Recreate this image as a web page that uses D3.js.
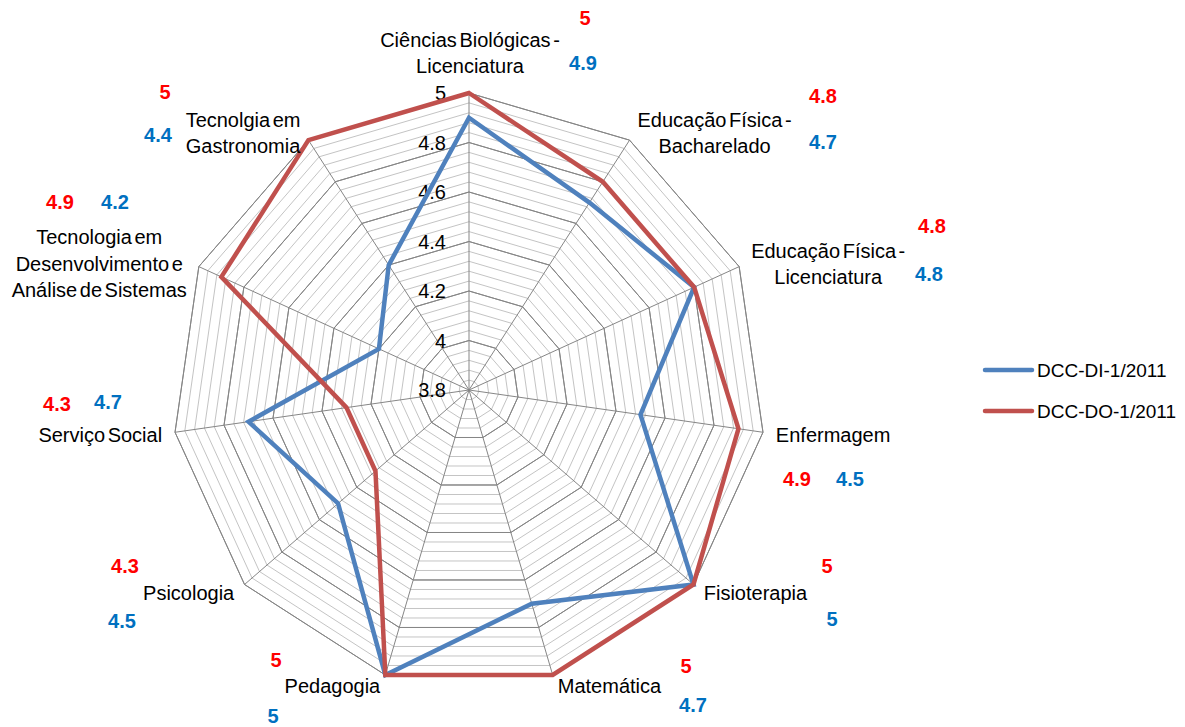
<!DOCTYPE html>
<html>
<head>
<meta charset="utf-8">
<script src="https://cdn.jsdelivr.net/npm/d3@7"></script>
<style>
  body { margin: 0; background: #fff; }
  svg text { font-family: "Liberation Sans", Arial, sans-serif; }
</style>
</head>
<body>
<svg id="chart" width="1185" height="727"></svg>
<script>
// categories, clockwise from the top
var categories = [
    ['Ciências Biológicas -', 'Licenciatura'],
    ['Educação Física -', 'Bacharelado'],
    ['Educação Física -', 'Licenciatura'],
    ['Enfermagem'],
    ['Fisioterapia'],
    ['Matemática'],
    ['Pedagogia'],
    ['Psicologia'],
    ['Serviço Social'],
    ['Tecnologia em', 'Desenvolvimento e', 'Análise de Sistemas'],
    ['Tecnolgia em', 'Gastronomia']
];
var seriesNames = ['DCC-DI-1/2011', 'DCC-DO-1/2011'];
var valuesDI = [4.9, 4.7, 4.8, 4.5, 5, 4.7, 5, 4.5, 4.7, 4.2, 4.4];
var valuesDO = [5, 4.8, 4.8, 4.9, 5, 5, 5, 4.3, 4.3, 4.9, 5];
var tickLabels = ['3.8', '4', '4.2', '4.4', '4.6', '4.8', '5'];

// hand placed value notes: [redX, redY, blueX, blueY]
var notePos = [
    [585, 18, 583, 63],
    [823, 96, 823, 142],
    [932, 226, 929, 274],
    [797, 479, 850, 479],
    [827, 566, 832, 619],
    [686, 666, 693, 705],
    [276, 660, 273, 716],
    [125, 566, 122, 621],
    [57, 404, 108, 402],
    [60, 202, 115, 202],
    [165, 92, 158, 135]
];

var colors = { di: '#4f81bd', do: '#c0504d', noteRed: '#ff0000', noteBlue: '#0070c0' };

var svg = d3.select('#chart');
var cx = 469, cy = 390, R = 297;
var n = categories.length;
var r = d3.scaleLinear().domain([3.8, 5]).range([0, R]);
var ang = function (i) { return i * 2 * Math.PI / n; };

var g = svg.append('g').attr('transform', 'translate(' + cx + ',' + cy + ')');

var ring = d3.lineRadial()
    .angle(function (d, i) { return ang(i); })
    .radius(function (d) { return r(d); })
    .curve(d3.curveLinearClosed);

// grid rings: minor every 0.04, major every 0.2
var levels = d3.range(0, 31).map(function (k) { return 3.8 + k * 0.04; });
g.selectAll('path.ring')
    .data(levels)
    .enter()
    .append('path')
    .attr('class', 'ring')
    .attr('d', function (v) { return ring(d3.range(n).map(function () { return v; })); })
    .attr('fill', 'none')
    .attr('stroke', function (v, k) { return k % 5 === 0 ? '#868686' : '#c4c4c4'; })
    .attr('stroke-width', 1);
// redraw majors on top
g.selectAll('path.major')
    .data(levels.filter(function (v, k) { return k % 5 === 0 && k > 0; }))
    .enter()
    .append('path')
    .attr('d', function (v) { return ring(d3.range(n).map(function () { return v; })); })
    .attr('fill', 'none')
    .attr('stroke', '#868686')
    .attr('stroke-width', 1);

// spokes
g.selectAll('line.spoke')
    .data(d3.range(n))
    .enter()
    .append('line')
    .attr('x1', 0).attr('y1', 0)
    .attr('x2', function (i) { return R * Math.sin(ang(i)); })
    .attr('y2', function (i) { return -R * Math.cos(ang(i)); })
    .attr('stroke', '#868686')
    .attr('stroke-width', 1);

// tick labels
g.selectAll('text.tick')
    .data(tickLabels)
    .enter()
    .append('text')
    .attr('x', -23)
    .attr('y', function (t) { return -r(+t); })
    .attr('dy', '0.36em')
    .attr('text-anchor', 'end')
    .attr('font-size', 20)
    .attr('fill', '#000')
    .text(function (t) { return t; });

// series
var series = [
    { name: seriesNames[0], values: valuesDI, color: colors.di },
    { name: seriesNames[1], values: valuesDO, color: colors.do }
];
g.selectAll('path.series')
    .data(series)
    .enter()
    .append('path')
    .attr('d', function (s) { return ring(s.values); })
    .attr('fill', 'none')
    .attr('stroke', function (s) { return s.color; })
    .attr('stroke-width', 4.5)
    .attr('stroke-linejoin', 'miter');

// category labels
var lh = 26.5;
categories.forEach(function (lines, i) {
    var s = Math.sin(ang(i)), c = Math.cos(ang(i));
    var px = cx + R * s, py = cy - R * c;
    var grp = svg.append('g');
    var texts = lines.map(function (l) {
        return grp.append('text')
            .attr('font-size', 20)
            .attr('word-spacing', -3)
            .attr('fill', '#000')
            .attr('text-anchor', 'middle')
            .text(l);
    });
    var w = d3.max(texts, function (t) { return t.node().getComputedTextLength(); });
    var midX, firstBase;
    if (Math.abs(s) < 0.1) {
        midX = px + 1;
        firstBase = py - 20 - (lines.length - 1) * lh;
    } else {
        var gap = 2 + 11 * Math.abs(s);
        midX = s > 0 ? px + gap + w / 2 : px - gap - w / 2;
        var centerY = py - c * 10 + 1.5;
        firstBase = centerY - (lines.length - 1) / 2 * lh + 7;
    }
    texts.forEach(function (t, k) {
        t.attr('x', midX).attr('y', firstBase + k * lh);
    });
});

// value notes
notePos.forEach(function (p, i) {
    svg.append('text')
        .attr('x', p[0]).attr('y', p[1]).attr('dy', '0.36em')
        .attr('text-anchor', 'middle')
        .attr('font-size', 20).attr('font-weight', 'bold')
        .attr('fill', colors.noteRed)
        .text(valuesDO[i]);
    svg.append('text')
        .attr('x', p[2]).attr('y', p[3]).attr('dy', '0.36em')
        .attr('text-anchor', 'middle')
        .attr('font-size', 20).attr('font-weight', 'bold')
        .attr('fill', colors.noteBlue)
        .text(valuesDI[i]);
});

// legend
var legend = svg.append('g').attr('transform', 'translate(985,370)');
var item = legend.selectAll('g')
    .data(series)
    .enter()
    .append('g')
    .attr('transform', function (d, i) { return 'translate(0,' + i * 41 + ')'; });
item.append('line')
    .attr('x1', 0).attr('x2', 47)
    .attr('stroke', function (d) { return d.color; })
    .attr('stroke-width', 4.5)
    .attr('stroke-linecap', 'round');
item.append('text')
    .attr('x', 52)
    .attr('dy', '0.36em')
    .attr('font-size', 19)
    .attr('fill', '#000')
    .text(function (d) { return d.name; });
</script>
</body>
</html>
